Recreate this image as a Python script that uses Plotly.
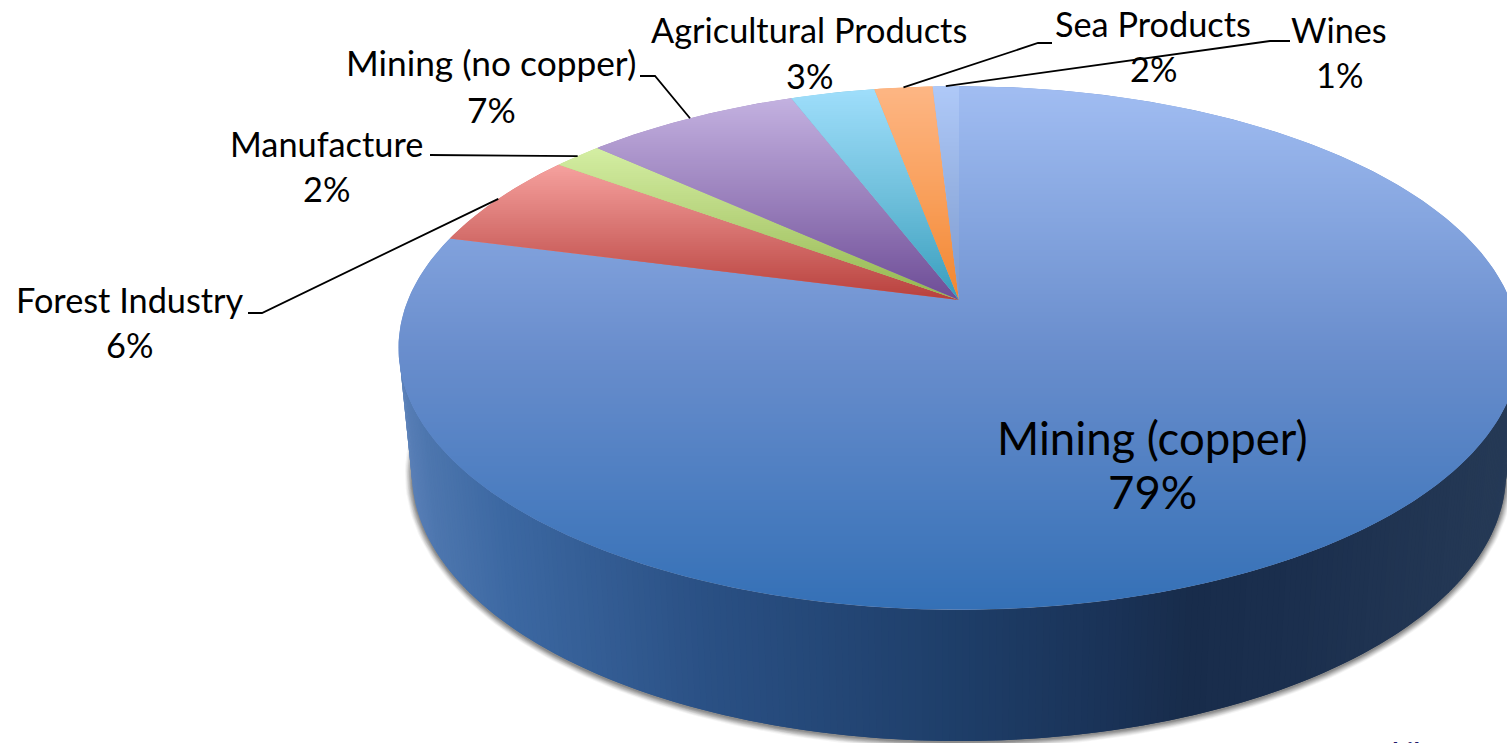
import numpy as np
import plotly.graph_objects as go

# ---------- data ----------
categories = ["Mining (copper)", "Forest Industry", "Manufacture", "Mining (no copper)",
              "Agricultural Products", "Sea Products", "Wines"]
values = [79.1, 6.0, 1.7, 7.4, 2.9, 2.0, 0.9]
shown_percent = ["79%", "6%", "2%", "7%", "3%", "2%", "1%"]

# ---------- style ----------
light_colors = ["#a1bdf2", "#f6a19e", "#d4eea3", "#c3b1e0", "#9fdefb", "#fdb684", "#afc9f8"]
mid_colors = ["#6a8ecd", "#d6716e", "#b5d27a", "#9a80bc", "#70c0dc", "#f9a05c", "#95b1e2"]
dark_colors = ["#3470b6", "#b8403c", "#92b64e", "#6d4c96", "#379dbd", "#f28630", "#7c99cf"]
name_pos = [(1152, 437), (130, 299), (326, 143), (491, 62), (809, 29), (1153, 23), (1339, 29)]
pct_pos = [(1152, 491), (129, 344), (326, 188), (491, 109), (809, 75), (1153, 68), (1339, 74)]
font_px = [45.5, 34.3, 34.3, 35.3, 34.3, 34.3, 34.3]
elbows = [None, [(248, 313), (262, 313)], [(430, 155)], [(640, 76), (655, 76)], None,
          [(1052, 43), (1038, 43)], [(1290, 41), (1270, 41)]]
wall_stops = [(399, "#5a80b8"), (425, "#4d76ae"), (500, "#3c68a2"), (700, "#2a5084"), (950, "#1e3e69"),
              (1100, "#1a3358"), (1190, "#182c4b"), (1300, "#1b2f4e"), (1519, "#263a56")]

CX, CY = 959.0, 300.0     # apex of the pie
A, B, K = 551.0, 253.0, 0.183
BAND = 2


def project(theta):
    u, v = np.sin(theta), np.cos(theta)
    w = 1 + K * v
    return CX + A * u / w, CY - B * v / w


def hex_rgb(c):
    return np.array([int(c[i:i + 2], 16) for i in (1, 3, 5)], float)


def mix(c1, c2, t):
    r = hex_rgb(c1) * (1 - t) + hex_rgb(c2) * t
    return "rgb(%d,%d,%d)" % tuple(np.round(r))


def ramp(i, t):
    t = float(np.clip(t, 0, 1))
    if t < .5:
        return mix(light_colors[i], mid_colors[i], t * 2)
    return mix(mid_colors[i], dark_colors[i], t * 2 - 1)


def clip(poly, limit, keep_below):
    out = []
    n = len(poly)
    for i in range(n):
        p, q = poly[i], poly[(i + 1) % n]
        pin = p[1] <= limit if keep_below else p[1] >= limit
        qin = q[1] <= limit if keep_below else q[1] >= limit
        if pin:
            out.append(p)
        if pin != qin:
            t = (limit - p[1]) / (q[1] - p[1])
            out.append((p[0] + t * (q[0] - p[0]), limit))
    return out


fig = go.Figure()


def poly_trace(xs, ys, color, opacity=1.0):
    fig.add_trace(go.Scatter(x=xs, y=ys, mode="lines", fill="toself", fillcolor=color, opacity=opacity,
                             line=dict(width=0), hoverinfo="skip", showlegend=False))


# soft shadow under the lower rim
ts = np.linspace(0, 2 * np.pi, 300)
for grow, alpha in zip([7, 6, 5, 4, 3, 2, 1], [.05, .08, .10, .12, .14, .16, .18]):
    poly_trace(959 + (547 + grow) * np.cos(ts), 474 + (268 + grow) * np.sin(ts), "#404040", alpha)

# side wall, painted left to right in overlapping strips
stop_x = [s[0] for s in wall_stops]
t_wall = np.radians(np.linspace(180, 0, 260))
for i in range(len(t_wall) - 1):
    seg = t_wall[i:i + 3]
    top_x, top_y = 959 + 560 * np.cos(seg), 348 + 262 * np.sin(seg)
    bot_x, bot_y = 959 + 547 * np.cos(seg), 473 + 268 * np.sin(seg)
    xm = top_x[0]
    j = min(max(np.searchsorted(stop_x, xm) - 1, 0), len(stop_x) - 2)
    f = (xm - stop_x[j]) / (stop_x[j + 1] - stop_x[j])
    poly_trace(list(top_x) + list(bot_x[::-1]), list(top_y) + list(bot_y[::-1]),
               mix(wall_stops[j][1], wall_stops[j + 1][1], float(np.clip(f, 0, 1))))

# top face: slices from the values, clockwise from 12 o'clock, each with its own vertical gradient
edges = np.r_[0, np.cumsum(values)] / np.sum(values) * 2 * np.pi
mids = (edges[:-1] + edges[1:]) / 2
for i, name in enumerate(categories):
    th = np.linspace(edges[i], edges[i + 1], max(int(values[i] * 6), 8))
    rx, ry = project(th)
    poly = [(CX, CY)] + list(zip(rx, ry))
    y_min, y_max = min(p[1] for p in poly), max(p[1] for p in poly)
    xs0, ys0 = zip(*poly)
    poly_trace(list(xs0), list(ys0), ramp(i, .5))
    y = np.floor(y_min)
    while y < y_max:
        part = clip(clip(poly, y + BAND, True), y, False)
        if len(part) >= 3:
            xs, ys = zip(*part)
            poly_trace(list(xs), list(ys), ramp(i, (y + BAND / 2 - y_min) / (y_max - y_min)))
        y += BAND

# leader lines: from the rim at each slice's middle to the label
for i, e in enumerate(elbows):
    if e:
        rx, ry = project(mids[i])
        fig.add_trace(go.Scatter(x=[p[0] for p in e] + [float(rx)], y=[p[1] for p in e] + [float(ry)],
                                 mode="lines", line=dict(color="#000000", width=1.8),
                                 hoverinfo="skip", showlegend=False))

# labels
for i, name in enumerate(categories):
    for text, pos in ((name, name_pos[i]), (shown_percent[i], pct_pos[i])):
        fig.add_annotation(x=pos[0], y=pos[1], text=text, showarrow=False, xanchor="center", yanchor="middle",
                           font=dict(family="Lato, Carlito, sans-serif", size=font_px[i], color="#000000"))

fig.add_annotation(x=1404, y=0, xref="x", yref="paper", text="<b>Chile</b>", showarrow=False,
                   xanchor="center", yanchor="top", yshift=9,
                   font=dict(family="Lato, sans-serif", size=26, color="#1f1a6b"))

fig.update_layout(width=1507, height=743, margin=dict(l=0, r=0, t=0, b=0), autosize=False,
                  paper_bgcolor="#ffffff", plot_bgcolor="#ffffff", showlegend=False,
                  xaxis=dict(range=[0, 1507], visible=False, fixedrange=True),
                  yaxis=dict(range=[743, 0], visible=False, fixedrange=True))
fig.write_html("out.html", config={"displayModeBar": False},
               post_script="document.body.style.margin='0';document.body.style.overflow='hidden';")
